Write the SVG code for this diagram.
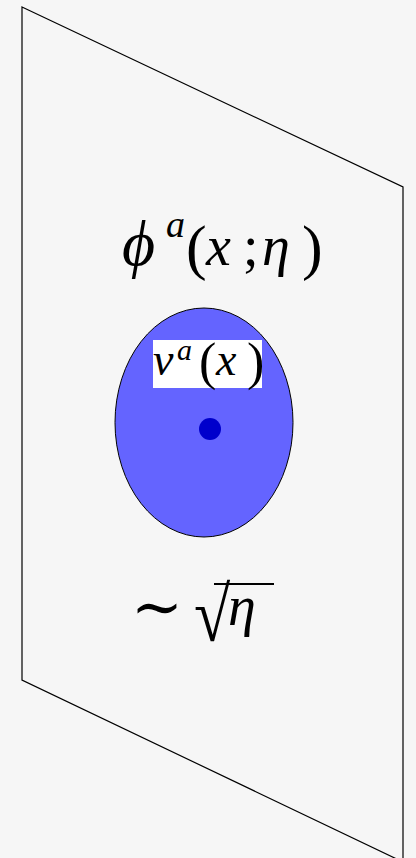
<svg xmlns="http://www.w3.org/2000/svg" width="416" height="858" viewBox="0 0 416 858">
<style>
.m{font-family:"Liberation Serif","DejaVu Serif",serif;fill:#000}
.i{font-style:italic}
</style>
<rect x="0" y="0" width="416" height="858" fill="#f6f6f6"/>
<g id="plane">
<polygon points="22,7 403,187 403,862 22,680" fill="#f6f6f6" stroke="#000" stroke-width="1.2"/>
</g>
<g id="phi-label">
<text class="m" y="265" font-size="56"><tspan class="i" x="122" font-size="64">ϕ</tspan><tspan class="i" x="166" y="237" font-size="38">a</tspan><tspan x="186" y="268" font-size="62">(</tspan><tspan class="i" x="206" y="265">x</tspan><tspan x="243" y="265">;</tspan><tspan class="i" x="262" y="265">η</tspan><tspan x="302" y="268" font-size="62">)</tspan></text>
</g>
<g id="blob">
<ellipse cx="204" cy="422.5" rx="89" ry="114.5" fill="#6464ff" stroke="#000" stroke-width="1"/>
<rect x="153" y="340" width="109" height="48" fill="#fff"/>
<text class="m" y="375" font-size="46"><tspan class="i" x="153">v</tspan><tspan class="i" x="177" y="360" font-size="30">a</tspan><tspan x="199" y="379" font-size="52">(</tspan><tspan class="i" x="216" y="375">x</tspan><tspan x="247" y="379" font-size="52">)</tspan></text>
<circle cx="210" cy="429" r="11" fill="#0000cc"/>
</g>
<g id="scale-label">
<text class="m" x="131" y="628" font-size="62">∼</text>
<text class="m" font-size="66" transform="translate(194,641) scale(1,1.17)">√</text>
<line x1="214" y1="584" x2="274" y2="584" stroke="#000" stroke-width="2"/>
<text class="m i" x="228" y="625" font-size="56">η</text>
</g>
</svg>
